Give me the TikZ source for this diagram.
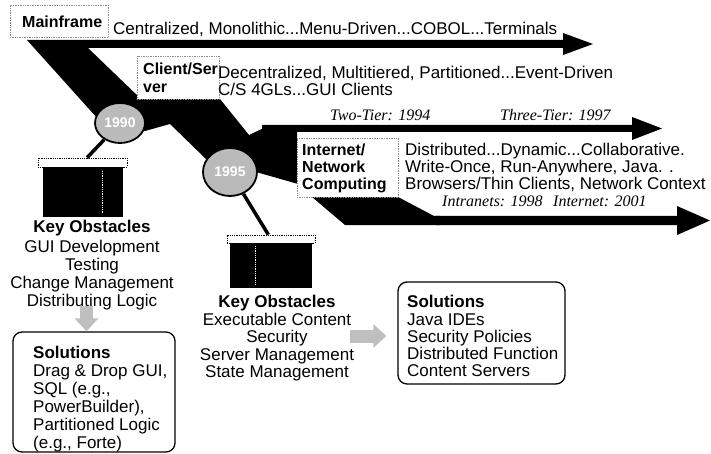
\documentclass[tikz,border=0pt]{standalone}
\usepackage{fontspec}
\setmainfont{Liberation Sans}
\newfontfamily\serifit{Liberation Serif}
\usetikzlibrary{arrows.meta,shapes.geometric}

\begin{document}
\begin{tikzpicture}[x=1pt,y=-1pt,
  txt/.style={inner sep=0pt, anchor=base west, font=\fontsize{17}{18}\selectfont},
  btxt/.style={txt, font=\fontsize{17}{18}\selectfont\bfseries},
  boxlab/.style={txt, font=\fontsize{16}{18}\selectfont\bfseries},
  ctxt/.style={txt, anchor=base},
  cbtxt/.style={btxt, anchor=base},
  itxt/.style={txt, font=\fontsize{16}{18}\selectfont\serifit\itshape},
  labelbox/.style={draw=black!45, densely dotted, line width=0.7pt, fill=white, inner sep=0pt},
  yearc/.style={ellipse, draw, line width=1.8pt, fill=black!27, text=white,
    font=\fontsize{14}{14}\selectfont\bfseries, inner sep=0pt},
  slab/.style={draw, densely dotted, fill=white, line width=0.8pt, inner sep=0pt},
  solbox/.style={draw, rounded corners=9pt, line width=1.3pt, inner sep=0pt},
  hint/.style={black!25, line width=13pt, -{Triangle[length=13pt,width=23pt]}},
  stick/.style={line width=3.5pt}
]
\useasboundingbox (0,0) rectangle (711,454);

% the stepped ribbon
\fill (27,40) -- (100,40) -- (100,48) -- (88,48) -- (141,99) -- (220,99)
  -- (249,135) -- (266,127) -- (297,127) -- (297,170) -- (330,170)
  -- (398,197) -- (434,216) -- (440,216) -- (440,225) -- (345,225)
  -- (312,197) -- (298,184) -- (256,172) -- (207,160) -- (170,124)
  -- (145,131) -- (98,119) -- cycle;

% the three era arrows
\fill (95,40) -- (563,40) -- (563,33) -- (593,44) -- (563,55) -- (563,48) -- (95,48) -- cycle;
\fill (262,125) -- (632,125) -- (632,117) -- (662,128.5) -- (632,140) -- (632,132) -- (262,132) -- cycle;
\fill (436,216) -- (677,216) -- (677,206) -- (710,220.5) -- (677,235) -- (677,225) -- (436,225) -- cycle;

% era label boxes
\node[labelbox, minimum width=98pt, minimum height=32pt] (mfbox) at (59,21) {};
\node[labelbox, minimum width=82pt, minimum height=43pt] (csbox) at (178,77.5) {};
\node[labelbox, minimum width=101pt, minimum height=59pt] (netbox) at (347.5,167.5) {};

\node[boxlab] (mf) at (22,28) {Mainframe};
\node[boxlab] (cs1) at (143,75) {Client/Ser};
\node[boxlab] (cs2) at (143,93) {ver};
\node[boxlab] (net1) at (302,156) {Internet/};
\node[boxlab] (net2) at (302,173) {Network};
\node[boxlab] (net3) at (302,190) {Computing};

% era descriptions
\node[txt] (mfd) at (113,35) {Centralized, Monolithic...Menu-Driven...COBOL...Terminals};
\node[txt] (csd1) at (218,79) {Decentralized, Multitiered, Partitioned...Event-Driven};
\node[txt] (csd2) at (218,96) {C/S 4GLs...GUI Clients};
\node[itxt] (tier2) at (330,121) {Two-Tier: 1994};
\node[itxt] (tier3) at (500,121) {Three-Tier: 1997};
\node[txt] (netd1) at (405,156) {Distributed...Dynamic...Collaborative.};
\node[txt] (netd2) at (405,173) {Write-Once, Run-Anywhere, Java. .};
\node[txt] (netd3) at (405,190) {Browsers/Thin Clients, Network Context};
\node[itxt] (intra) at (442,207) {Intranets: 1998};
\node[itxt] (inter) at (553,207) {Internet: 2001};

% year markers and pedestals
\node[slab, minimum width=89pt, minimum height=9pt] (slab1) at (82.5,162.5) {};
\node[slab, minimum width=88pt, minimum height=8pt] (slab2) at (271,239) {};
\node[yearc, minimum width=50pt, minimum height=40pt] (y90) at (120,123) {1990};
\node[yearc, minimum width=54pt, minimum height=48pt] (y95) at (230,172) {1995};
\draw[stick] (y90) -- (slab1);
\draw[stick] (y95) -- (slab2);
\fill (43,167) rectangle (123,217);
\fill (230,243) rectangle (312,288);
\draw[white, densely dotted, line width=0.8pt] (102,171) -- (102,214);
\draw[white, densely dotted, line width=0.8pt] (255,246) -- (255,285);

% obstacles after 1990
\node[cbtxt] (koa) at (92,233) {Key Obstacles};
\foreach \t [count=\i from 0] in {GUI Development, Testing, Change Management, Distributing Logic}
  \node[ctxt] (koa-\i) at (92,252+18*\i) {\t};

% obstacles after 1995
\node[cbtxt] (kob) at (277,307) {Key Obstacles};
\foreach \t [count=\i from 0] in {Executable Content, Security, Server Management, State Management}
  \node[ctxt] (kob-\i) at (277,325+17.5*\i) {\t};

% solution boxes
\node[solbox, minimum width=162pt, minimum height=120pt] (sol1) at (94,392) {};
\node[btxt] (sola) at (33,358) {Solutions};
\foreach \t [count=\i from 0] in {{Drag \& Drop GUI,}, {SQL (e.g.,}, {PowerBuilder),}, Partitioned Logic, {(e.g., Forte)}}
  \node[txt] (sola-\i) at (33,376+18*\i) {\t};

\node[solbox, minimum width=167pt, minimum height=102pt] (sol2) at (481.5,333) {};
\node[btxt] (solb) at (407,307) {Solutions};
\foreach \t [count=\i from 0] in {Java IDEs, Security Policies, Distributed Function, Content Servers}
  \node[txt] (solb-\i) at (407,325+17.2*\i) {\t};

% hint arrows from obstacles to solutions
\coordinate (ga1) at (86.5,306);
\draw[hint] (ga1) -- (ga1 |- sol1.north);
\coordinate (ga2) at (350,336);
\draw[hint, shorten >=11pt] (ga2) -- (ga2 -| sol2.west);
\end{tikzpicture}
\end{document}
